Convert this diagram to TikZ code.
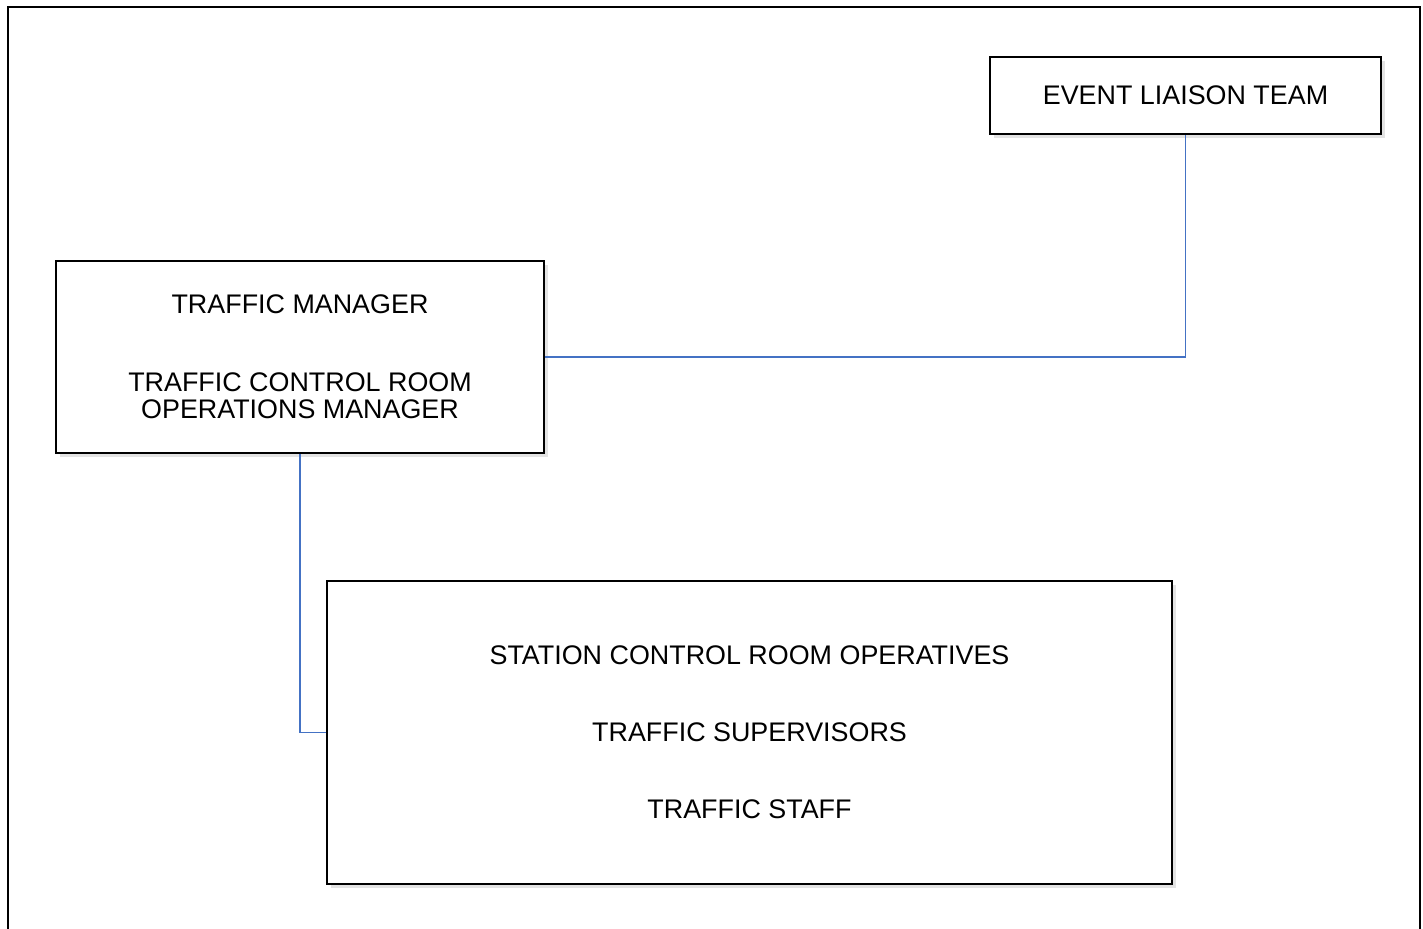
\documentclass[tikz,border=0pt]{standalone}
\usepackage{fontspec}
\setmainfont{Liberation Sans}
\usetikzlibrary{
  positioning,
  shadows
}
\definecolor{linkblue}{RGB}{68,114,196}

\begin{document}
\begin{tikzpicture}[
  x=0.02cm, y=-0.02cm,
  every node/.style={font=\fontsize{15.3}{15.5}\selectfont},
  rolebox/.style={draw=black, line width=1.1pt, fill=white, align=center,
                  inner sep=0pt,
                  drop shadow={opacity=0.22, shadow xshift=2.5pt, shadow yshift=-2.5pt}},
  link/.style={draw=linkblue, line width=0.9pt}
]

\useasboundingbox (0,0) rectangle (1423,929);

% outer frame, open at the bottom
\draw[line width=1.4pt] (8,935) -- (8,7) -- (1420,7) -- (1420,935);

\node[rolebox, minimum width=7.82cm, minimum height=1.54cm] (elt) at (1185.5,95.5)
  {EVENT LIAISON TEAM};

\node[rolebox, minimum width=9.76cm, minimum height=3.84cm] (tm) at (300,357)
  {TRAFFIC MANAGER\\[28.9pt]
   TRAFFIC CONTROL ROOM\\
   OPERATIONS MANAGER};

\node[rolebox, minimum width=16.9cm, minimum height=6.06cm] (scr) at (749.5,732.5)
  {STATION CONTROL ROOM OPERATIVES\\[28.3pt]
   TRAFFIC SUPERVISORS\\[28.3pt]
   TRAFFIC STAFF};

\draw[link] (tm.east) -| (elt.south);
\draw[link] (tm.south) |- (scr.west);

\end{tikzpicture}
\end{document}
